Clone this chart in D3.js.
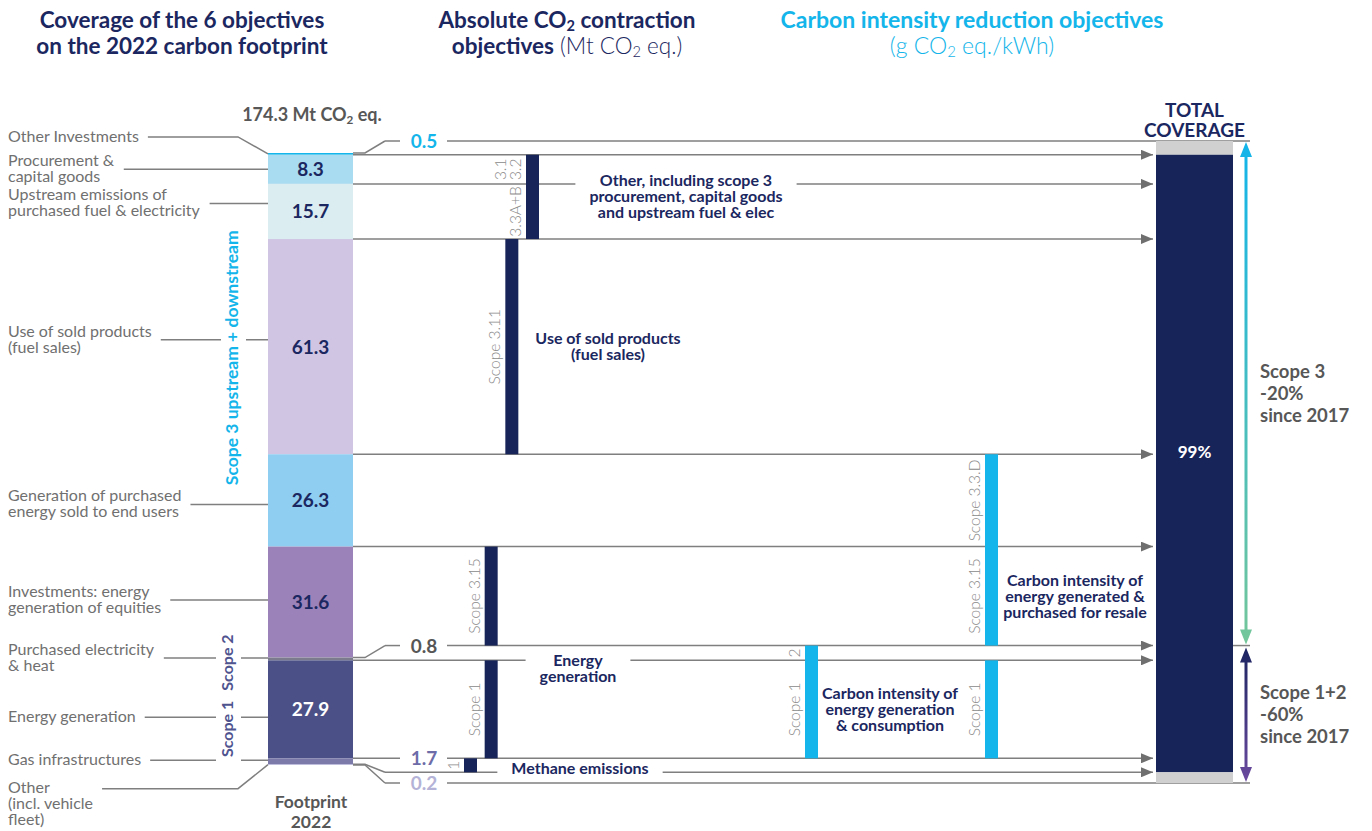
<!DOCTYPE html>
<html>
<head>
<meta charset="utf-8">
<title>Coverage of the 6 objectives on the 2022 carbon footprint</title>
<script src="https://cdn.jsdelivr.net/npm/d3@7"></script>
<style>
  body { margin: 0; background: #fff; }
  svg text { font-family: Lato, "Open Sans", sans-serif; }
</style>
</head>
<body>
<svg id="chart" width="1372" height="831"></svg>
<script>
// 2022 carbon footprint, column read from top to bottom (Mt CO2 eq.)
var segments = ["otherInvest", "procurement", "upstream", "soldProducts", "resale", "equities", "purchasedElec", "energyGen", "gasInfra", "otherFleet"];
var values = [0.5, 8.3, 15.7, 61.3, 26.3, 31.6, 0.8, 27.9, 1.7, 0.2];
var segLabels = [
    ["Other Investments"],
    ["Procurement &", "capital goods"],
    ["Upstream emissions of", "purchased fuel & electricity"],
    ["Use of sold products", "(fuel sales)"],
    ["Generation of purchased", "energy sold to end users"],
    ["Investments: energy", "generation of equities"],
    ["Purchased electricity", "& heat"],
    ["Energy generation"],
    ["Gas infrastructures"],
    ["Other", "(incl. vehicle", "fleet)"]
];
var footprintTotal = "174.3 Mt CO₂ eq.";
var footprintName = ["Footprint", "2022"];
var coverageName = ["TOTAL", "COVERAGE"];
var coverageShare = "99%";

// scope groups on the left of the column: label, first and last segment
var scopeNames = ["Scope 3 upstream + downstream", "Scope 2", "Scope 1"];
var scopeFirst = [0, 6, 7];
var scopeLast = [5, 6, 9];

// absolute contraction objectives: segments covered, tags per segment, description
var absFirst = [1, 3, 5, 7, 8];
var absLast = [2, 3, 5, 7, 8];
var absTags = [[["3.1", "3.2"], ["3.3A+B"]], [["Scope 3.11"]], [["Scope 3.15"]], [["Scope 1"]], [["1"]]];
var absNotes = [
    ["Other, including scope 3", "procurement, capital goods", "and upstream fuel & elec"],
    ["Use of sold products", "(fuel sales)"],
    [],
    ["Energy", "generation"],
    ["Methane emissions"]
];

// carbon intensity objectives
var intFirst = [4, 6, 7];
var intLast = [5, 7, 7];
var intTags = [[["Scope 3.3.D"], ["Scope 3.15"]], [["2"], ["Scope 1"]], [["Scope 1"]]];
var intNotes = [
    ["Carbon intensity of", "energy generated &", "purchased for resale"],
    ["Carbon intensity of", "energy generation", "& consumption"],
    []
];

var scopeTargets = [["Scope 3", "-20%", "since 2017"], ["Scope 1+2", "-60%", "since 2017"]];

var titles = [
    ["Coverage of the 6 objectives", "on the 2022 carbon footprint"],
    ["Absolute CO₂ contraction", "objectives| (Mt CO₂ eq.)"],
    ["Carbon intensity reduction objectives", "|(g CO₂ eq./kWh)"]
];

// ---------- layout ----------
var NAVY = "#1b2760", CYAN = "#13b5ea", LABEL = "#707070", DARK = "#575757", LINE = "#7f7f7f", TAG = "#8a8a8a";
var colLeft = 268, colRight = 353, colTop = 153, colBottom = 765;
var lineEnd = 1153, boxLeft = 1156, boxRight = 1233, rightEdge = 1250;
var boundaryShift = [-12, 0, 0, 0, 0, 0, -12, 0, 0, 8, 18]; // callouts for thin segments
var calloutSeg = {0: 0, 6: 6, 8: 8, 10: 9};                 // boundary -> segment value written on it
var calloutColor = {0: CYAN, 6: DARK, 8: "#6d6ca8", 9: "#b4b3d7"};
var labelNudge = [-17, 0, -8, -7, 4, -2, -1, 8, -1, 24];
var absLane = [0, 1, 2, 2, 3];
var intLane = [1, 0, 1];
var absNoteX = [686, 608, 0, 578, 580];
var intNoteX = [1075, 890, 0];
var barW = 13;

var segColor = d3.scaleOrdinal().domain(segments)
    .range(["#13b5ea", "#a9dcf0", "#dcedf2", "#d0c6e4", "#8fcdf1", "#9b83b9", "#7c7b8e", "#4b5186", "#7b7aa9", "#b4b3d7"]);

var svg = d3.select("#chart");

var total = d3.sum(values);
var cum = [0];
values.forEach(function (v) { cum.push(cum[cum.length - 1] + v); });

var y = d3.scaleLinear().domain([0, total]).range([colTop, colBottom]);
var b = cum.map(function (c) { return y(c); });
var mid = b.map(function (v, i) { return v + boundaryShift[i]; });
var absX = d3.scaleLinear().domain([0, 3]).range([526, 464]);
var intX = d3.scaleLinear().domain([0, 1]).range([805, 985]);

function midCenter(first, last) { return (mid[first] + mid[last + 1]) / 2; }

// text with CO₂ subscripts
function rich(sel, str, weight) {
    var parts = str.split("₂");
    parts.forEach(function (p, i) {
        if (i > 0) {
            sel.append("tspan").attr("font-weight", weight).attr("font-size", "65%").attr("dy", 3).text("2");
            sel.append("tspan").attr("font-weight", weight).attr("dy", -3).text(p);
        } else {
            sel.append("tspan").attr("font-weight", weight).text(p);
        }
    });
}

function block(g, lines, x, cy, size, lh, color, weight, anchor) {
    var t = g.append("text")
        .attr("x", x)
        .attr("y", cy - (lines.length - 1) * lh / 2 + size * 0.35)
        .attr("text-anchor", anchor || "middle")
        .attr("font-size", size)
        .attr("font-weight", weight)
        .attr("fill", color);
    lines.forEach(function (l, i) {
        t.append("tspan").attr("x", x).attr("dy", i ? lh : 0).text(l);
    });
    return t;
}

var defs = svg.append("defs");
defs.append("marker").attr("id", "arrow")
    .attr("viewBox", "0 0 12 10").attr("refX", 12).attr("refY", 5)
    .attr("markerWidth", 12).attr("markerHeight", 10)
    .attr("markerUnits", "userSpaceOnUse").attr("orient", "auto")
    .append("path").attr("d", "M0,0L12,5L0,10Z").attr("fill", "#6f6f6f");

// ---------- titles ----------
var titleX = [182, 567, 972];
var titleSize = [22.5, 22.5, 23];
titles.forEach(function (lines, i) {
    lines.forEach(function (l, j) {
        var t = svg.append("text")
            .attr("x", titleX[i]).attr("y", 28 + j * 26)
            .attr("text-anchor", "middle")
            .attr("font-size", titleSize[i])
            .attr("fill", i === 2 ? CYAN : NAVY);
        var parts = l.split("|");
        rich(t, parts[0], 700);
        if (parts.length > 1) rich(t, parts[1], 300);
    });
});

// ---------- notes (drawn first so lines can break around them) ----------
var noteG = svg.append("g");
var noteBoxes = [];
var absNoteY = [midCenter(1, 2), midCenter(3, 3), 0, mid[7] + 8, mid[9] - 4];
var intNoteY = [midCenter(5, 5), midCenter(7, 7), 0];
function drawNotes(notes, xs, ys) {
    notes.forEach(function (lines, i) {
        if (!lines.length) return;
        var t = block(noteG, lines, xs[i], ys[i], 16, 16, NAVY, 700);
        noteBoxes.push(t.node().getBBox());
    });
}
drawNotes(absNotes, absNoteX, absNoteY);
drawNotes(intNotes, intNoteX, intNoteY);

// ---------- horizontal lines ----------
var lineG = svg.append("g").attr("fill", "none").attr("stroke", LINE).attr("stroke-width", 1.5);
mid.forEach(function (my, i) {
    var x0 = colRight;
    if (boundaryShift[i] !== 0) {
        lineG.append("path").attr("d", "M" + colRight + "," + b[i] + "H" + (colRight + 12) + "L" + (colRight + 32) + "," + my);
        x0 = colRight + 32;
    }
    var arrowEnd = !(i === 0 || i === mid.length - 1);
    var xEnd = arrowEnd ? lineEnd : rightEdge;
    var gaps = [];
    if (calloutSeg[i] !== undefined) gaps.push([400, 447]);
    noteBoxes.forEach(function (bb) {
        if (my > bb.y + 3 && my < bb.y + bb.height - 3) gaps.push([bb.x - 14, bb.x + bb.width + 14]);
    });
    gaps.sort(function (a, c) { return a[0] - c[0]; });
    var pieces = [], cur = x0;
    gaps.forEach(function (g) { pieces.push([cur, g[0]]); cur = g[1]; });
    pieces.push([cur, xEnd]);
    pieces.forEach(function (p, k) {
        var ln = lineG.append("line").attr("x1", p[0]).attr("x2", p[1]).attr("y1", my).attr("y2", my);
        if (arrowEnd && k === pieces.length - 1) ln.attr("marker-end", "url(#arrow)");
    });
});
// short piece right of the coverage box at the scope 3 / scope 1+2 split
lineG.append("line").attr("x1", boxRight).attr("x2", rightEdge).attr("y1", mid[6]).attr("y2", mid[6]);

// callout values of the thin segments
Object.keys(calloutSeg).forEach(function (k) {
    var s = calloutSeg[k];
    svg.append("text")
        .attr("x", 424).attr("y", mid[k] + 7)
        .attr("text-anchor", "middle")
        .attr("font-size", 19).attr("font-weight", 700)
        .attr("fill", calloutColor[s])
        .text(values[s]);
});

// ---------- footprint column ----------
svg.append("g").selectAll("rect")
    .data(values)
    .enter().append("rect")
    .attr("x", colLeft)
    .attr("y", function (d, i) { return b[i]; })
    .attr("width", colRight - colLeft)
    .attr("height", function (d, i) { return b[i + 1] - b[i]; })
    .attr("fill", function (d, i) { return segColor(segments[i]); });

svg.append("g").selectAll("text")
    .data(values)
    .enter().filter(function (d) { return d > 5; })
    .append("text")
    .attr("x", (colLeft + colRight) / 2)
    .attr("y", function (d) { var i = values.indexOf(d); return (b[i] + b[i + 1]) / 2 + 7; })
    .attr("text-anchor", "middle")
    .attr("font-size", 19).attr("font-weight", 700)
    .attr("fill", function (d) { return d === 27.9 ? "#fff" : NAVY; })
    .text(function (d) { return d; });

var tt = svg.append("text").attr("x", 312).attr("y", 121).attr("text-anchor", "middle")
    .attr("font-size", 18).attr("fill", DARK);
rich(tt, footprintTotal, 700);
block(svg, footprintName, 311, 812, 17.5, 20, DARK, 700);

// ---------- left labels ----------
var leftG = svg.append("g");
var leaderG = svg.append("g").attr("fill", "none").attr("stroke", LINE).attr("stroke-width", 1.5);
segLabels.forEach(function (lines, i) {
    var cy = (b[i] + b[i + 1]) / 2;
    var ly = cy + labelNudge[i];
    var t = leftG.append("text").attr("x", 8)
        .attr("y", i === segLabels.length - 1 ? ly + 4 : ly - (lines.length - 1) * 8 + 5)
        .attr("font-size", 16).attr("font-weight", 400).attr("fill", LABEL);
    lines.forEach(function (l, j) { t.append("tspan").attr("x", 8).attr("dy", j ? 16 : 0).text(l); });
    var bb = t.node().getBBox();
    var x0 = bb.x + bb.width + 9;
    if (Math.abs(labelNudge[i]) > 10) {
        leaderG.append("path").attr("d", "M" + x0 + "," + ly + "H238L" + colLeft + "," + cy);
    } else {
        leaderG.append("path").attr("d", "M" + x0 + "," + ly + "H" + colLeft);
    }
});

// scope groups, vertical text on a white band cutting the leaders
scopeNames.forEach(function (name, i) {
    var g = svg.append("g");
    var bg = g.append("rect").attr("fill", "#fff");
    var t = g.append("text")
        .attr("font-size", i === 0 ? 17.5 : 16).attr("font-weight", 700)
        .attr("fill", i === 0 ? CYAN : "#4f548f")
        .text(name);
    var len = t.node().getComputedTextLength();
    var x, y0, y1;
    if (i === 0) {
        x = 238;
        var c = (b[scopeFirst[i]] + b[scopeLast[i]]) / 2 + 8;
        y0 = c - len / 2; y1 = c + len / 2;
    } else if (i === 1) {
        // reads on from the top of the "Scope 1" text
        x = 233; y1 = b[scopeLast[2] + 1] - 8 - len - 10; y0 = y1 - len;
    } else {
        x = 233; y1 = b[scopeLast[i] + 1] - 8; y0 = y1 - len;
    }
    t.attr("transform", "translate(" + x + "," + y1 + ") rotate(-90)");
    bg.attr("x", x - 17).attr("width", 25).attr("y", y0 - 8).attr("height", y1 - y0 + 16);
});

// ---------- objective bars ----------
function drawBars(first, last, lane, xs, tags, color) {
    first.forEach(function (f, i) {
        var bx = xs(lane[i]);
        svg.append("rect")
            .attr("x", bx).attr("y", mid[f])
            .attr("width", barW).attr("height", mid[last[i] + 1] - mid[f])
            .attr("fill", color);
        tags[i].forEach(function (lines, k) {
            var cy = midCenter(f + k, f + k);
            lines.forEach(function (l, j) {
                var tx = bx - 5 - (lines.length - 1 - j) * 15;
                svg.append("text")
                    .attr("transform", "translate(" + tx + "," + cy + ") rotate(-90)")
                    .attr("text-anchor", "middle")
                    .attr("font-size", 15.5).attr("font-weight", 300)
                    .attr("fill", TAG)
                    .text(l);
            });
        });
    });
}
drawBars(absFirst, absLast, absLane, absX, absTags, "#172459");
drawBars(intFirst, intLast, intLane, intX, intTags, CYAN);

// ---------- total coverage ----------
var last = mid.length - 1;
svg.append("rect").attr("x", boxLeft).attr("y", mid[0]).attr("width", boxRight - boxLeft)
    .attr("height", mid[1] - mid[0]).attr("fill", "#d0d0d0");
svg.append("rect").attr("x", boxLeft).attr("y", mid[1]).attr("width", boxRight - boxLeft)
    .attr("height", mid[last - 1] - mid[1]).attr("fill", "#172459");
svg.append("rect").attr("x", boxLeft).attr("y", mid[last - 1]).attr("width", boxRight - boxLeft)
    .attr("height", mid[last] - mid[last - 1]).attr("fill", "#d0d0d0");
block(svg, coverageName, (boxLeft + boxRight) / 2, mid[0] - 21, 19, 20, NAVY, 700);
svg.append("text").attr("x", (boxLeft + boxRight) / 2).attr("y", (mid[1] + mid[last - 1]) / 2 - 6)
    .attr("text-anchor", "middle").attr("font-size", 17).attr("font-weight", 700)
    .attr("fill", "#fff").text(coverageShare);

// double arrows with gradients
function gradArrow(id, y0, y1, c0, c1) {
    var gr = defs.append("linearGradient").attr("id", id)
        .attr("gradientUnits", "userSpaceOnUse").attr("x1", 0).attr("x2", 0).attr("y1", y0).attr("y2", y1);
    gr.append("stop").attr("offset", 0).attr("stop-color", c0);
    gr.append("stop").attr("offset", 1).attr("stop-color", c1);
    var ax = 1246, hw = 6, hl = 15;
    svg.append("path")
        .attr("d", "M" + ax + "," + y0 + "L" + (ax + hw) + "," + (y0 + hl) + "H" + (ax + 1.5) + "V" + (y1 - hl) +
            "H" + (ax + hw) + "L" + ax + "," + y1 + "L" + (ax - hw) + "," + (y1 - hl) + "H" + (ax - 1.5) +
            "V" + (y0 + hl) + "H" + (ax - hw) + "Z")
        .attr("fill", "url(#" + id + ")");
}
gradArrow("g3", mid[0] + 1, mid[6] - 1, "#12b4ea", "#74c69a");
gradArrow("g12", mid[6] + 2, mid[last] - 1, "#1c2461", "#6b4a9f");

scopeTargets.forEach(function (lines, i) {
    var cy = i === 0 ? (mid[0] + mid[6]) / 2 : (mid[6] + mid[last]) / 2;
    block(svg, lines, 1260, cy, 18.5, 22, DARK, 700, "start");
});
</script>
</body>
</html>
